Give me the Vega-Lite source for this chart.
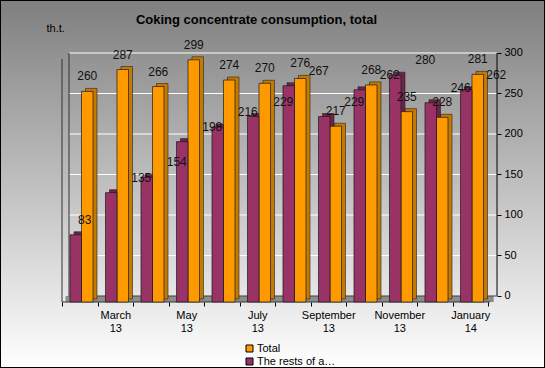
{
  "$schema": "https://vega.github.io/schema/vega-lite/v6.json",
  "width": 545,
  "height": 368,
  "autosize": {"type": "none"},
  "padding": 0,
  "background": "#ffffff",
  "view": {
    "fill": {"gradient": "linear", "x1": 0, "y1": 0, "x2": 0, "y2": 1,
      "stops": [{"offset": 0, "color": "#7f7f7f"}, {"offset": 1, "color": "#ffffff"}]},
    "stroke": "#000000",
    "strokeWidth": 2
  },
  "config": {"font": "Liberation Sans"},
  "title": {
    "text": "Coking concentrate consumption, total",
    "anchor": "middle",
    "frame": "group",
    "offset": -27,
    "dx": -16,
    "fontSize": 13,
    "fontWeight": "bold",
    "font": "Liberation Sans",
    "color": "#000000"
  },
  "datasets": {
    "bars": [
      {"month": "February 13", "series": "Total", "value": 260},
      {"month": "February 13", "series": "The rests of a…", "value": 83},
      {"month": "March 13", "series": "Total", "value": 287},
      {"month": "March 13", "series": "The rests of a…", "value": 135},
      {"month": "April 13", "series": "Total", "value": 266},
      {"month": "April 13", "series": "The rests of a…", "value": 154},
      {"month": "May 13", "series": "Total", "value": 299},
      {"month": "May 13", "series": "The rests of a…", "value": 198},
      {"month": "June 13", "series": "Total", "value": 274},
      {"month": "June 13", "series": "The rests of a…", "value": 216},
      {"month": "July 13", "series": "Total", "value": 270},
      {"month": "July 13", "series": "The rests of a…", "value": 229},
      {"month": "August 13", "series": "Total", "value": 276},
      {"month": "August 13", "series": "The rests of a…", "value": 267},
      {"month": "September 13", "series": "Total", "value": 217},
      {"month": "September 13", "series": "The rests of a…", "value": 229},
      {"month": "October 13", "series": "Total", "value": 268},
      {"month": "October 13", "series": "The rests of a…", "value": 262},
      {"month": "November 13", "series": "Total", "value": 235},
      {"month": "November 13", "series": "The rests of a…", "value": 280},
      {"month": "December 13", "series": "Total", "value": 228},
      {"month": "December 13", "series": "The rests of a…", "value": 246},
      {"month": "January 14", "series": "Total", "value": 281},
      {"month": "January 14", "series": "The rests of a…", "value": 262}
    ],
    "grid": [{"v": 50}, {"v": 100}, {"v": 150}, {"v": 200}, {"v": 250}, {"v": 300}],
    "one": [{}]
  },
  "data": {"name": "bars"},
  "layer": [
    {
      "data": {"name": "grid"},
      "mark": {"type": "rule", "color": "#ffffff", "strokeWidth": 1.2},
      "encoding": {
        "x": {"datum": "February 13", "type": "ordinal", "bandPosition": 0.197, "axis": null,
          "scale": {"type": "band", "domain": ["February 13","March 13","April 13","May 13","June 13","July 13","August 13","September 13","October 13","November 13","December 13","January 14"], "range": [62, 488], "paddingInner": 0, "paddingOuter": 0}},
        "x2": {"datum": "January 14", "bandPosition": 1.254},
        "y": {"field": "v", "type": "quantitative",
          "scale": {"domain": [-88.89, 365.43], "nice": false, "zero": false},
          "axis": {"orient": "right", "offset": -48, "values": [0, 50, 100, 150, 200, 250, 300],
            "domain": false, "grid": false, "tickSize": 4, "tickColor": "#000000", "tickWidth": 1,
            "labelPadding": 3, "labelFontSize": 11, "labelColor": "#000000", "labelFont": "Liberation Sans",
            "title": "th.t.", "titleAngle": 0, "titleX": -451, "titleY": 31, "titleAlign": "left",
            "titleBaseline": "alphabetic", "titleFontWeight": "normal", "titleFontSize": 11,
            "titleColor": "#000000", "titleFont": "Liberation Sans"}}
      }
    },
    {
      "data": {"name": "one"},
      "mark": {"type": "rule", "color": "#333333", "strokeWidth": 1},
      "encoding": {
        "x": {"datum": "February 13", "type": "ordinal", "bandPosition": 0.197, "axis": null},
        "y": {"datum": 0, "type": "quantitative", "axis": null,
          "scale": {"domain": [-88.89, 365.43], "nice": false, "zero": false}},
        "y2": {"datum": 300}
      }
    },
    {
      "data": {"name": "one"},
      "mark": {"type": "rule", "color": "#000000", "strokeWidth": 1},
      "encoding": {
        "x": {"datum": "January 14", "type": "ordinal", "bandPosition": 1.254, "axis": null},
        "y": {"datum": 0, "type": "quantitative", "axis": null,
          "scale": {"domain": [-88.89, 365.43], "nice": false, "zero": false}},
        "y2": {"datum": 300}
      }
    },
    {
      "data": {"name": "one"},
      "mark": {"type": "rule", "color": "#8c8c8c", "strokeWidth": 6},
      "encoding": {
        "x": {"datum": "February 13", "type": "ordinal", "bandPosition": 0.1, "axis": null},
        "x2": {"datum": "January 14", "bandPosition": 1.16},
        "y": {"datum": 0, "type": "quantitative", "axis": null,
          "scale": {"domain": [-85.19, 369.13], "nice": false, "zero": false}}
      }
    },
    {
      "data": {"name": "one"},
      "mark": {"type": "rule", "color": "#404040", "strokeWidth": 1},
      "encoding": {
        "x": {"datum": "February 13", "type": "ordinal", "bandPosition": 0.197, "axis": null},
        "x2": {"datum": "January 14", "bandPosition": 1.254},
        "y": {"datum": 0, "type": "quantitative", "axis": null,
          "scale": {"domain": [-88.89, 365.43], "nice": false, "zero": false}}
      }
    },
    {
      "mark": {"type": "bar", "stroke": "#222222", "strokeWidth": 0.6},
      "encoding": {
        "x": {"field": "month", "type": "ordinal", "axis": null},
        "xOffset": {"field": "series", "type": "nominal", "sort": ["The rests of a…", "Total"],
          "scale": {"paddingInner": 0, "paddingOuter": 0.543, "align": 0.96}},
        "y": {"field": "value", "type": "quantitative", "stack": null, "axis": null,
          "scale": {"domain": [-85.19, 369.13], "nice": false, "zero": false}},
        "y2": {"datum": 0},
        "color": {"field": "series", "type": "nominal", "legend": null,
          "scale": {"domain": ["Total", "The rests of a…"], "range": ["#c47a00", "#6e2448"]}}
      }
    },
    {
      "resolve": {"axis": {"x": "independent", "y": "independent"}},
      "layer": [
        {
          "data": {"name": "one"},
          "mark": {"type": "rule", "color": "#333333", "strokeWidth": 1},
          "encoding": {
            "x": {"datum": "February 13", "type": "ordinal", "bandPosition": 0, "axis": null},
            "y": {"datum": 0, "type": "quantitative", "axis": null,
              "scale": {"domain": [-81.48, 372.84], "nice": false, "zero": false}},
            "y2": {"datum": 300}
          }
        },
        {
          "data": {"name": "one"},
          "mark": {"type": "rule", "color": "#333333", "strokeWidth": 1},
          "encoding": {
            "x": {"datum": "February 13", "type": "ordinal", "bandPosition": 0, "axis": null},
            "x2": {"datum": "January 14", "bandPosition": 1.056},
            "y": {"datum": 0, "type": "quantitative", "axis": null}
          }
        },
        {
          "mark": {"type": "bar", "stroke": "#1a1a1a", "strokeWidth": 0.7},
          "encoding": {
            "x": {"field": "month", "type": "ordinal",
              "axis": {"orient": "bottom", "offset": -66, "title": null, "domain": false, "tickBand": "extent",
                "tickSize": 4, "tickColor": "#000000", "labelPadding": 3, "labelBaseline": "top",
                "labelLineHeight": 13, "labelFontSize": 11, "labelColor": "#000000", "labelAngle": 0,
                "labelOverlap": false, "labelFont": "Liberation Sans",
                "labelExpr": "indexof(['March 13','May 13','July 13','September 13','November 13','January 14'], datum.value) >= 0 ? split(datum.value, ' ') : ''"}},
            "xOffset": {"field": "series", "type": "nominal", "sort": ["The rests of a…", "Total"],
              "scale": {"paddingInner": 0, "paddingOuter": 0.543, "align": 0.64}},
            "y": {"field": "value", "type": "quantitative", "stack": null, "axis": null},
            "y2": {"datum": 0},
            "color": {"field": "series", "type": "nominal",
              "scale": {"domain": ["Total", "The rests of a…"], "range": ["#ff9900", "#993366"]},
              "legend": {"orient": "none", "legendX": 244, "legendY": 343, "title": null,
                "symbolType": "square", "symbolSize": 49, "symbolStrokeColor": "#000000", "symbolStrokeWidth": 1,
                "symbolOpacity": 1, "labelFontSize": 11, "labelFont": "Liberation Sans", "labelColor": "#000000",
                "rowPadding": 1, "labelOffset": 2}}
          }
        },
        {
          "transform": [{"filter": "datum.series === 'Total'"}],
          "mark": {"type": "text", "dy": -15, "fontSize": 12, "color": "#111111", "font": "Liberation Sans"},
          "encoding": {
            "x": {"field": "month", "type": "ordinal", "axis": null},
            "xOffset": {"field": "series", "type": "nominal", "sort": ["The rests of a…", "Total"]},
            "y": {"field": "value", "type": "quantitative", "axis": null},
            "text": {"field": "value", "type": "quantitative"}
          }
        },
        {
          "transform": [{"filter": "datum.series !== 'Total' && datum.month !== 'February 13'"}],
          "mark": {"type": "text", "dy": -15, "dx": 30, "fontSize": 12, "color": "#111111", "font": "Liberation Sans"},
          "encoding": {
            "x": {"field": "month", "type": "ordinal", "axis": null},
            "xOffset": {"field": "series", "type": "nominal", "sort": ["The rests of a…", "Total"]},
            "y": {"field": "value", "type": "quantitative", "axis": null},
            "text": {"field": "value", "type": "quantitative"}
          }
        },
        {
          "transform": [{"filter": "datum.series !== 'Total' && datum.month === 'February 13'"}],
          "mark": {"type": "text", "dy": -15, "dx": 9, "fontSize": 12, "color": "#111111", "font": "Liberation Sans"},
          "encoding": {
            "x": {"field": "month", "type": "ordinal", "axis": null},
            "xOffset": {"field": "series", "type": "nominal", "sort": ["The rests of a…", "Total"]},
            "y": {"field": "value", "type": "quantitative", "axis": null},
            "text": {"field": "value", "type": "quantitative"}
          }
        }
      ]
    }
  ],
  "resolve": {
    "scale": {"y": "independent", "xOffset": "independent", "color": "independent"},
    "axis": {"y": "independent", "x": "independent"}
  }
}
